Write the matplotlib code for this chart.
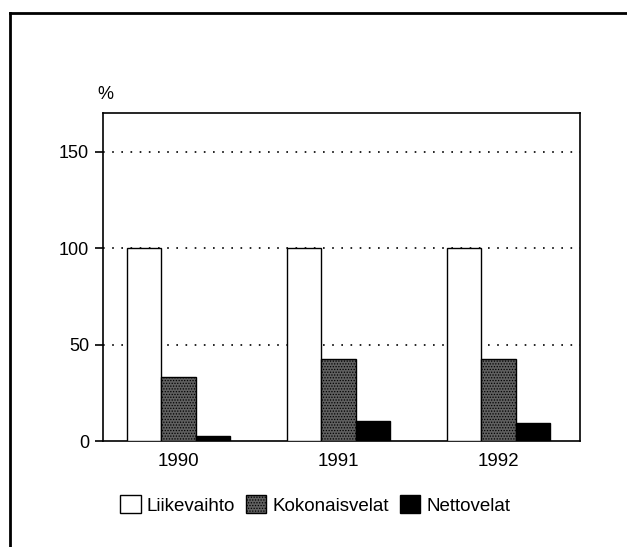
import matplotlib; matplotlib.use("Agg")
import matplotlib.pyplot as plt
from matplotlib.lines import Line2D
from matplotlib.patches import Patch
import numpy as np

plt.rcParams['font.family'] = ['Liberation Sans', 'DejaVu Sans']
plt.rcParams['hatch.linewidth'] = 0.6

YEARS = ["1990", "1991", "1992"]
LIIKEVAIHTO = [100, 100, 100]
KOKONAISVELAT = [33.3, 42.5, 42.3]
NETTOVELAT = [2.6, 10.4, 9.2]
SERIES = ["Liikevaihto", "Kokonaisvelat", "Nettovelat"]

W, H = 627, 547
fig = plt.figure(figsize=(W / 100, H / 100), dpi=100)
ax = fig.add_axes([103 / W, 1 - 441 / H, (580 - 103) / W, (441 - 113) / H])

x = np.arange(len(YEARS)); w = 0.2156
ax.bar(x - w, LIIKEVAIHTO, w, color="white", edgecolor="black", lw=1.0, zorder=3)
ax.bar(x, KOKONAISVELAT, w, color="#606060", edgecolor="black", hatch="......", lw=1.0, zorder=3)
ax.bar(x + w, NETTOVELAT, w, color="black", edgecolor="black", lw=1.0, zorder=3)

ax.set_xlim(-0.472, 2.509)
ax.set_ylim(0, 170)
ax.set_yticks([0, 50, 100, 150])
ax.set_xticks(x); ax.set_xticklabels(YEARS)
ax.tick_params(axis="x", length=0, labelsize=13.5, pad=9)
ax.tick_params(axis="y", length=6, width=1.2, labelsize=13, pad=4)
for g in [50, 100, 150]:
    ax.axhline(g, color="black", ls=(0, (1, 4.5)), lw=1.2, zorder=1)
for s in ax.spines.values():
    s.set_linewidth(1.2)
ax.text(-0.012, 1.03, "%", transform=ax.transAxes, fontsize=13, ha="left", va="bottom")

handles = [Patch(facecolor="white", edgecolor="black"),
           Patch(facecolor="#606060", edgecolor="black", hatch="......"),
           Patch(facecolor="black", edgecolor="black")]
fig.legend(handles, SERIES, loc="center", bbox_to_anchor=(315 / W, 1 - 505 / H), ncol=3,
           frameon=False, fontsize=13.5, handlelength=1.1, handleheight=1.1,
           handletextpad=0.3, columnspacing=0.6)

# outer frame (left and top edges)
fig.add_artist(Line2D([10 / W, 10 / W], [0, 1 - 13 / H], color="black", lw=2))
fig.add_artist(Line2D([10 / W, 1], [1 - 13 / H, 1 - 13 / H], color="black", lw=2))

fig.savefig("out.png", dpi=100)
